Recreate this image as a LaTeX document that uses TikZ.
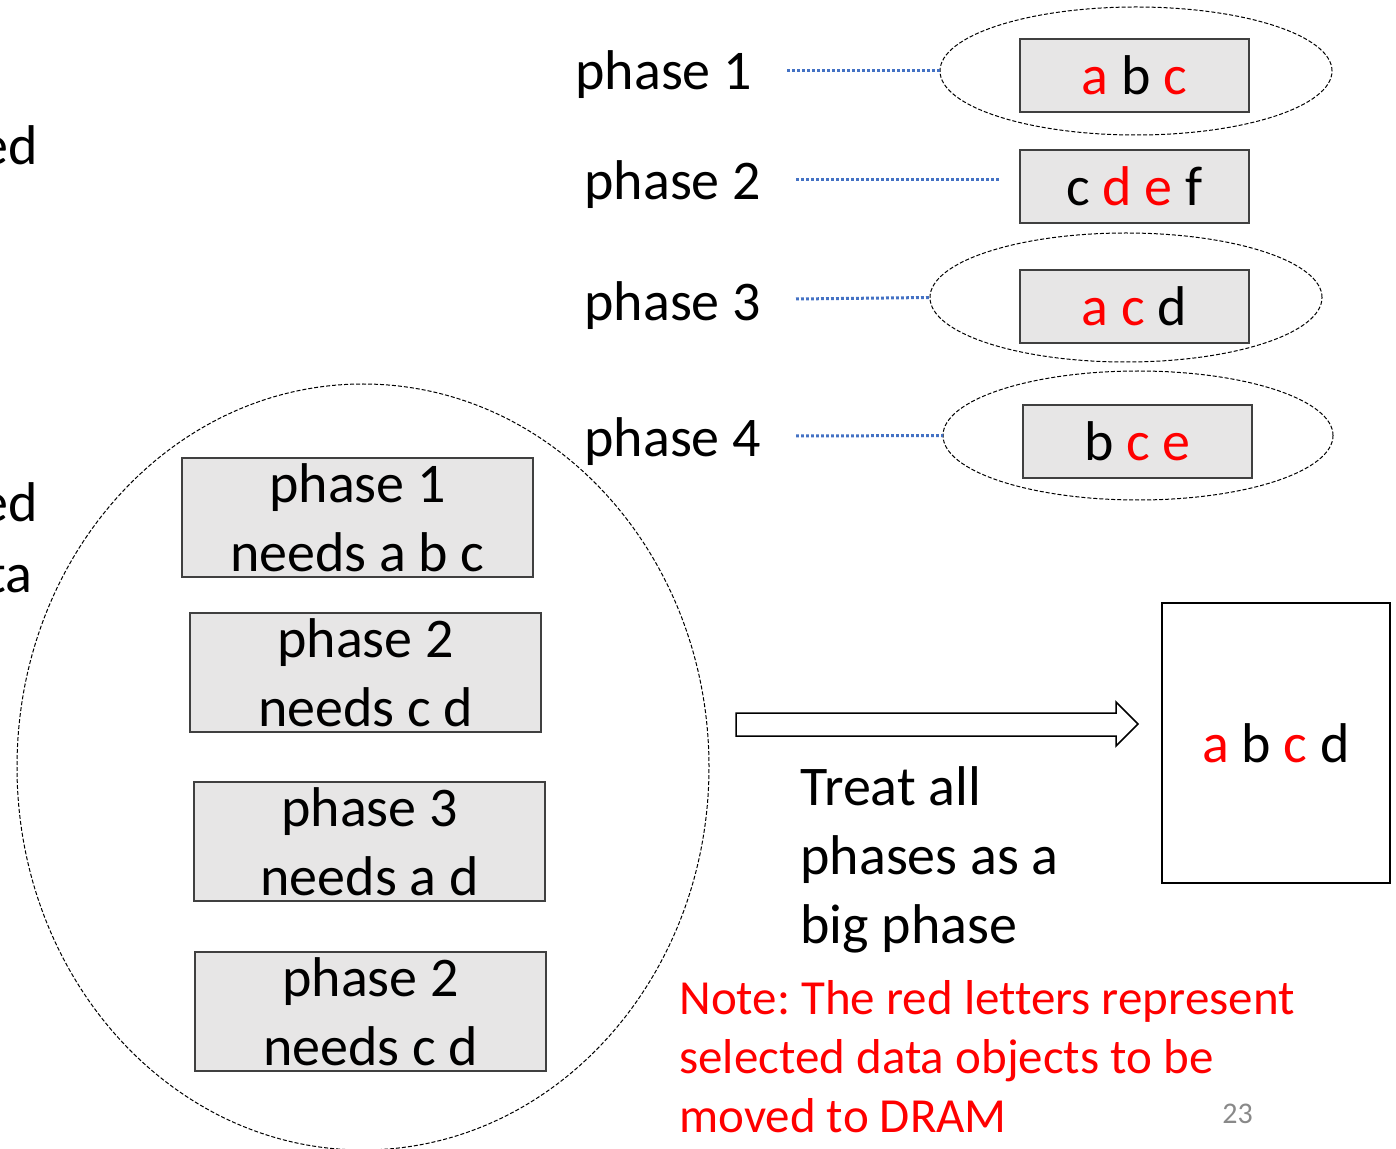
\documentclass[tikz,border=0pt]{standalone}
\usepackage{fontspec}
\setmainfont{Carlito}[Ligatures=NoCommon]
\usetikzlibrary{shapes.geometric}
\definecolor{boxgray}{HTML}{E7E6E6}
\definecolor{boxdark}{HTML}{404040}
\definecolor{dotblue}{HTML}{4472C4}
\definecolor{pagegray}{HTML}{898989}
\newcommand{\rd}[1]{\textcolor{red}{#1}}
\frenchspacing
\begin{document}
\begin{tikzpicture}[x=0.5pt,y=-0.5pt,
  big/.style={font=\fontsize{28}{34.5}\selectfont},
  lbl/.style={big, inner sep=0, anchor=base west},
  gbox/.style={draw=boxdark, line width=1pt, fill=boxgray, minimum width=114.5pt, minimum height=36.5pt, inner sep=0, big, text height=26pt, text depth=7pt},
  pbox/.style={draw=boxdark, line width=1pt, fill=boxgray, minimum width=175.5pt, minimum height=59.5pt, inner sep=0, big, align=center},
  dotln/.style={dotblue, line width=1.5pt, dash pattern=on 1.4pt off 1.1pt},
  dell/.style={ellipse, draw, line width=0.5pt, dash pattern=on 2pt off 1pt, inner sep=0, outer sep=0}
]
\useasboundingbox (0,0) rectangle (1396,1149);

% cut-off text at left edge
\node[lbl, anchor=base east] (c1) at (38,165) {ed};
\node[lbl, anchor=base east] (c2) at (38,522) {ed};
\node[lbl, anchor=base east] (c3) at (33,592) {ta};

% phase labels
\node[lbl] (p1) at (575,90) {phase 1};
\node[lbl] (p2) at (584,200) {phase 2};
\node[lbl] (p3) at (584,321) {phase 3};
\node[lbl] (p4) at (584,457) {phase 4};

% ellipses
\node[dell, minimum width=196pt, minimum height=64pt] (E1) at (1136,71) {};
\node[dell, minimum width=196pt, minimum height=64.5pt] (E3) at (1126,297.5) {};
\node[dell, minimum width=195pt, minimum height=64.5pt] (E4) at (1138,435.5) {};

% data boxes
\node[gbox] (B1) at (1134.5,75.5) {\rd{a} b \rd{c}};
\node[gbox] (B2) at (1134.5,186.5) {c \rd{d} \rd{e} f};
\node[gbox] (B3) at (1134.5,306.5) {\rd{a} \rd{c} d};
\node[gbox] (B4) at (1137.5,441.5) {b \rd{c} \rd{e}};

% dotted connectors
\coordinate (d1) at (787,71);
\coordinate (d2a) at (796,180);
\coordinate (d2b) at (1000,180);
\coordinate (d3) at (796,299);
\coordinate (d4) at (796,436);
\draw[dotln] (d1) -- (E1.west);
\draw[dotln] (d2a) -- (d2b);
\draw[dotln] (d3) -- (E3.west);
\draw[dotln] (d4) -- (E4.west);

% big dashed ellipse
\node[dell, minimum width=346pt, minimum height=383pt] (BE) at (363,767) {};

% phase boxes
\node[pbox] (L1) at (357.5,517.5) {phase 1\\needs a b c};
\node[pbox] (L2) at (365.5,672.5) {phase 2\\needs c d};
\node[pbox] (L3) at (369.5,841.5) {phase 3\\needs a d};
\node[pbox] (L4) at (370.5,1011.5) {phase 2\\needs c d};

% block arrow
\draw[line width=0.75pt, fill=white] (736,713) -- (1116,713) -- (1116,702) -- (1138,724) -- (1116,746) -- (1116,736) -- (736,736) -- cycle;

% merged box
\node[draw, line width=0.75pt, fill=white, minimum width=114pt, minimum height=140pt, inner sep=0, big, text height=26pt, text depth=7pt] (R) at (1276,743) {\rd{a} b \rd{c} d};

% texts
\node[big, align=left, anchor=north west, inner sep=0] (T) at (800,766) {Treat all\\phases as a\\big phase};
\node[font=\fontsize{24.5}{29.5}\selectfont, text=red, align=left, anchor=north west, inner sep=0] (N) at (679,980) {Note: The red letters represent\\selected data objects to be\\moved to DRAM};
\node[font=\fontsize{15}{18}\selectfont, text=pagegray, anchor=base west, inner sep=0] (pg) at (1222,1123) {23};
\end{tikzpicture}
\end{document}
